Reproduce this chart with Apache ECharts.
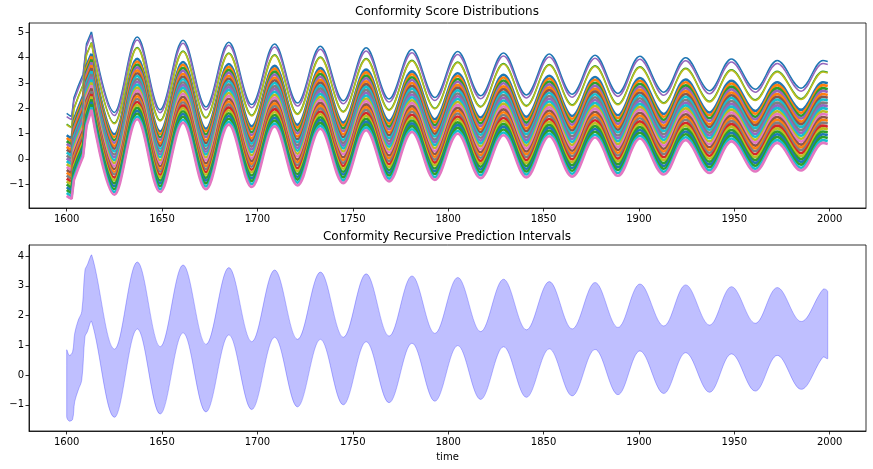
<!DOCTYPE html>
<html>
<head>
<meta charset="utf-8">
<script src="https://cdn.jsdelivr.net/npm/echarts@6/dist/echarts.min.js"></script>
<style>
html, body { margin: 0; padding: 0; background: #fff; }
#chart { width: 873px; height: 469px; }
</style>
</head>
<body>
<div id="chart"></div>
<script>
// key points (start, then peaks / troughs)
var scoreYears = [1600, 1601.5, 1602.6, 1603.8, 1606, 1608.6, 1610.4, 1613,
    1625, 1637, 1649, 1661, 1673, 1685, 1697, 1709, 1721, 1733, 1745, 1757, 1769, 1781,
    1793, 1805, 1817, 1829, 1841, 1853, 1865, 1877, 1889, 1900.5, 1913, 1924.5, 1937,
    1948.5, 1961, 1972.5, 1985, 1996.5, 1999];

var scoreLines = [
    [1.80,1.72,1.68,2.42,2.87,3.35,4.55,5.02,1.84,4.82,1.95,4.69,2.06,4.61,2.15,4.54,2.21,4.45,2.30,4.39,2.37,4.32,2.43,4.25,2.50,4.19,2.53,4.15,2.56,4.10,2.59,4.06,2.64,4.00,2.70,3.95,2.76,3.89,2.80,3.89,3.85],
    [1.68,1.60,1.56,2.30,2.75,3.23,4.43,4.90,1.72,4.70,1.83,4.57,1.94,4.49,2.03,4.42,2.09,4.33,2.18,4.27,2.25,4.20,2.31,4.13,2.38,4.07,2.41,4.03,2.44,3.98,2.47,3.94,2.52,3.88,2.58,3.83,2.64,3.77,2.68,3.77,3.73],
    [1.38,1.30,1.26,2.00,2.45,2.93,4.13,4.60,1.42,4.40,1.53,4.27,1.64,4.19,1.73,4.12,1.79,4.03,1.88,3.97,1.95,3.90,2.01,3.83,2.08,3.77,2.11,3.73,2.14,3.68,2.17,3.64,2.22,3.58,2.28,3.53,2.34,3.47,2.38,3.47,3.43],
    [1.35,1.27,1.23,1.97,2.42,2.90,4.10,4.57,1.39,4.37,1.50,4.24,1.61,4.16,1.70,4.09,1.76,4.00,1.85,3.94,1.92,3.87,1.98,3.80,2.05,3.74,2.08,3.70,2.11,3.65,2.14,3.61,2.19,3.55,2.25,3.50,2.31,3.44,2.35,3.44,3.40],
    [0.94,0.86,0.82,1.56,2.01,2.49,3.69,4.16,0.98,3.96,1.09,3.83,1.20,3.75,1.29,3.68,1.35,3.59,1.44,3.53,1.51,3.46,1.57,3.39,1.64,3.33,1.67,3.29,1.70,3.24,1.73,3.20,1.78,3.14,1.84,3.09,1.90,3.03,1.94,3.03,2.99],
    [0.83,0.75,0.71,1.45,1.90,2.38,3.58,4.05,0.87,3.85,0.98,3.72,1.09,3.64,1.18,3.57,1.24,3.48,1.33,3.42,1.40,3.35,1.46,3.28,1.53,3.22,1.56,3.18,1.59,3.13,1.62,3.09,1.67,3.03,1.73,2.98,1.79,2.92,1.83,2.92,2.88],
    [0.71,0.63,0.59,1.33,1.78,2.26,3.46,3.93,0.75,3.73,0.86,3.60,0.97,3.52,1.06,3.45,1.12,3.36,1.21,3.30,1.28,3.23,1.34,3.16,1.41,3.10,1.44,3.06,1.47,3.01,1.50,2.97,1.55,2.91,1.61,2.86,1.67,2.80,1.71,2.80,2.76],
    [0.60,0.52,0.48,1.22,1.67,2.15,3.35,3.82,0.64,3.62,0.75,3.49,0.86,3.41,0.95,3.34,1.01,3.25,1.10,3.19,1.17,3.12,1.23,3.05,1.30,2.99,1.33,2.95,1.36,2.90,1.39,2.86,1.44,2.80,1.50,2.75,1.56,2.69,1.60,2.69,2.65],
    [0.48,0.40,0.36,1.10,1.55,2.03,3.23,3.70,0.52,3.50,0.63,3.37,0.74,3.29,0.83,3.22,0.89,3.13,0.98,3.07,1.05,3.00,1.11,2.93,1.18,2.87,1.21,2.83,1.24,2.78,1.27,2.74,1.32,2.68,1.38,2.63,1.44,2.57,1.48,2.57,2.53],
    [0.37,0.29,0.25,0.99,1.44,1.92,3.12,3.59,0.41,3.39,0.52,3.26,0.63,3.18,0.72,3.11,0.78,3.02,0.87,2.96,0.94,2.89,1.00,2.82,1.07,2.76,1.10,2.72,1.13,2.67,1.16,2.63,1.21,2.57,1.27,2.52,1.33,2.46,1.37,2.46,2.42],
    [0.26,0.18,0.14,0.88,1.33,1.81,3.01,3.48,0.30,3.28,0.41,3.15,0.52,3.07,0.61,3.00,0.67,2.91,0.76,2.85,0.83,2.78,0.89,2.71,0.96,2.65,0.99,2.61,1.02,2.56,1.05,2.52,1.10,2.46,1.16,2.41,1.22,2.35,1.26,2.35,2.31],
    [0.14,0.06,0.02,0.76,1.21,1.69,2.89,3.36,0.18,3.16,0.29,3.03,0.40,2.95,0.49,2.88,0.55,2.79,0.64,2.73,0.71,2.66,0.77,2.59,0.84,2.53,0.87,2.49,0.90,2.44,0.93,2.40,0.98,2.34,1.04,2.29,1.10,2.23,1.14,2.23,2.19],
    [0.03,-0.05,-0.09,0.65,1.10,1.58,2.78,3.25,0.07,3.05,0.18,2.92,0.29,2.84,0.38,2.77,0.44,2.68,0.53,2.62,0.60,2.55,0.66,2.48,0.73,2.42,0.76,2.38,0.79,2.33,0.82,2.29,0.87,2.23,0.93,2.18,0.99,2.12,1.03,2.12,2.08],
    [-0.08,-0.16,-0.20,0.54,0.99,1.47,2.67,3.14,-0.04,2.94,0.07,2.81,0.18,2.73,0.27,2.66,0.33,2.57,0.42,2.51,0.49,2.44,0.55,2.37,0.62,2.31,0.65,2.27,0.68,2.22,0.71,2.18,0.76,2.12,0.82,2.07,0.88,2.01,0.92,2.01,1.97],
    [-0.20,-0.28,-0.32,0.42,0.87,1.35,2.55,3.02,-0.16,2.82,-0.05,2.69,0.06,2.61,0.15,2.54,0.21,2.45,0.30,2.39,0.37,2.32,0.43,2.25,0.50,2.19,0.53,2.15,0.56,2.10,0.59,2.06,0.64,2.00,0.70,1.95,0.76,1.89,0.80,1.89,1.85],
    [-0.31,-0.39,-0.43,0.31,0.76,1.24,2.44,2.91,-0.27,2.71,-0.16,2.58,-0.05,2.50,0.04,2.43,0.10,2.34,0.19,2.28,0.26,2.21,0.32,2.14,0.39,2.08,0.42,2.04,0.45,1.99,0.48,1.95,0.53,1.89,0.59,1.84,0.65,1.78,0.69,1.78,1.74],
    [-0.43,-0.51,-0.55,0.19,0.64,1.12,2.32,2.79,-0.39,2.59,-0.28,2.46,-0.17,2.38,-0.08,2.31,-0.02,2.22,0.07,2.16,0.14,2.09,0.20,2.02,0.27,1.96,0.30,1.92,0.33,1.87,0.36,1.83,0.41,1.77,0.47,1.72,0.53,1.66,0.57,1.66,1.62],
    [-0.54,-0.62,-0.66,0.08,0.53,1.01,2.21,2.68,-0.50,2.48,-0.39,2.35,-0.28,2.27,-0.19,2.20,-0.13,2.11,-0.04,2.05,0.03,1.98,0.09,1.91,0.16,1.85,0.19,1.81,0.22,1.76,0.25,1.72,0.30,1.66,0.36,1.61,0.42,1.55,0.46,1.55,1.51],
    [-0.65,-0.73,-0.77,-0.03,0.42,0.90,2.10,2.68,-0.61,2.37,-0.50,2.24,-0.39,2.16,-0.30,2.09,-0.24,2.00,-0.15,1.94,-0.08,1.87,-0.02,1.80,0.05,1.74,0.08,1.70,0.11,1.65,0.14,1.61,0.19,1.55,0.25,1.50,0.31,1.44,0.35,1.44,1.40],
    [-0.77,-0.85,-0.89,-0.15,0.30,0.78,1.98,2.57,-0.73,2.25,-0.62,2.12,-0.51,2.04,-0.42,1.97,-0.36,1.88,-0.27,1.82,-0.20,1.75,-0.14,1.68,-0.07,1.62,-0.04,1.58,-0.01,1.53,0.02,1.49,0.07,1.43,0.13,1.38,0.19,1.32,0.23,1.32,1.28],
    [-0.88,-0.96,-1.00,-0.26,0.19,0.67,1.87,2.47,-0.84,2.14,-0.73,2.01,-0.62,1.93,-0.53,1.86,-0.47,1.77,-0.38,1.71,-0.31,1.64,-0.25,1.57,-0.18,1.51,-0.15,1.47,-0.12,1.42,-0.09,1.38,-0.04,1.32,0.02,1.27,0.08,1.21,0.12,1.21,1.17],
    [-1.00,-1.08,-1.12,-0.38,0.07,0.55,1.75,2.36,-0.96,2.02,-0.85,1.89,-0.74,1.81,-0.65,1.74,-0.59,1.65,-0.50,1.59,-0.43,1.52,-0.37,1.45,-0.30,1.39,-0.27,1.35,-0.24,1.30,-0.21,1.26,-0.16,1.20,-0.10,1.15,-0.04,1.09,0.00,1.09,1.05],
    [-1.11,-1.19,-1.23,-0.49,-0.04,0.44,1.64,2.26,-1.07,1.91,-0.96,1.78,-0.85,1.70,-0.76,1.63,-0.70,1.54,-0.61,1.48,-0.54,1.41,-0.48,1.34,-0.41,1.28,-0.38,1.24,-0.35,1.19,-0.32,1.15,-0.27,1.09,-0.21,1.04,-0.15,0.98,-0.11,0.98,0.94],
    [-1.22,-1.30,-1.34,-0.60,-0.15,0.33,1.53,2.16,-1.18,1.80,-1.07,1.67,-0.96,1.59,-0.87,1.52,-0.81,1.43,-0.72,1.37,-0.65,1.30,-0.59,1.23,-0.52,1.17,-0.49,1.13,-0.46,1.08,-0.43,1.04,-0.38,0.98,-0.32,0.93,-0.26,0.87,-0.22,0.87,0.83],
    [-1.34,-1.42,-1.46,-0.72,-0.27,0.21,1.41,2.05,-1.30,1.68,-1.19,1.55,-1.08,1.47,-0.99,1.40,-0.93,1.31,-0.84,1.25,-0.77,1.18,-0.71,1.11,-0.64,1.05,-0.61,1.01,-0.58,0.96,-0.55,0.92,-0.50,0.86,-0.44,0.81,-0.38,0.75,-0.34,0.75,0.71],
    [-1.45,-1.53,-1.57,-0.83,-0.38,0.10,1.30,1.95,-1.41,1.57,-1.30,1.44,-1.19,1.36,-1.10,1.29,-1.04,1.20,-0.95,1.14,-0.88,1.07,-0.82,1.00,-0.75,0.94,-0.72,0.90,-0.69,0.85,-0.66,0.81,-0.61,0.75,-0.55,0.70,-0.49,0.64,-0.45,0.64,0.60]
];

var lineColors = ['#1f77b4', '#9467bd', '#2ca02c', '#bcbd22',
    '#1f77b4', '#ff7f0e', '#2ca02c', '#9467bd', '#ff7f0e', '#8c564b', '#17becf', '#7f7f7f',
    '#9467bd', '#17becf', '#bcbd22', '#e377c2', '#8c564b', '#ff7f0e', '#7f7f7f', '#d62728',
    '#bcbd22', '#2ca02c', '#1f77b4', '#2ca02c', '#17becf', '#e377c2'];

// prediction interval edges
var bandYears = [1600, 1601.4, 1603.1, 1604.2, 1606.1, 1607.9, 1609.6, 1610.8, 1613.1,
    1625, 1637, 1649, 1661, 1673, 1685, 1697, 1709, 1721, 1733, 1745, 1757, 1769, 1781,
    1793, 1805, 1817, 1829, 1841, 1853, 1865, 1877, 1889, 1900.5, 1913, 1924.5, 1937,
    1948.5, 1961, 1972.5, 1985, 1996.5, 1999];
var bandUpper = [0.84, 0.66, 0.78, 1.40, 1.85, 2.13, 3.53, 3.70, 4.04,
    0.87, 3.80, 0.95, 3.70, 1.03, 3.61, 1.12, 3.53, 1.20, 3.46, 1.27, 3.40, 1.31, 3.33,
    1.40, 3.28, 1.46, 3.22, 1.52, 3.14, 1.55, 3.11, 1.60, 3.06, 1.65, 3.03, 1.68, 2.97,
    1.74, 2.94, 1.80, 2.88, 2.80];
var bandLower = [-1.40, -1.55, -1.49, -0.90, -0.50, -0.17, 1.29, 1.45, 1.79,
    -1.42, 1.55, -1.31, 1.42, -1.24, 1.35, -1.16, 1.27, -1.07, 1.20, -1.00, 1.12, -0.93, 1.07,
    -0.88, 0.99, -0.82, 0.95, -0.75, 0.88, -0.70, 0.86, -0.66, 0.81, -0.62, 0.75, -0.58, 0.71,
    -0.54, 0.66, -0.48, 0.60, 0.56];

var FONT = 'DejaVu Sans';
var SCORE_SPLIT = 7;   // index of the first peak: jagged start drawn straight, rest smoothed

function plain(v) { return v < 0 ? '\u2212' + (-v) : String(v); }

function xAxisFor(idx, name) {
    return {
        type: 'value', gridIndex: idx, z: 5,
        min: 1580.25, max: 2019.05, splitNumber: 9,
        name: name || '', nameLocation: 'middle', nameGap: 21,
        nameTextStyle: { color: '#000', fontSize: 10, fontFamily: FONT },
        axisLine: { show: true, onZero: false, lineStyle: { color: '#000', width: 0.8 } },
        axisTick: { length: 3.5, lineStyle: { color: '#000', width: 0.8 } },
        axisLabel: { showMinLabel: false, showMaxLabel: false, color: '#000',
            fontSize: 10, fontFamily: FONT, margin: 6, formatter: plain },
        splitLine: { show: false }
    };
}

function yAxisFor(idx, min, max) {
    return {
        type: 'value', gridIndex: idx, min: min, max: max, z: 5,
        axisLine: { show: true, onZero: false, lineStyle: { color: '#000', width: 0.8 } },
        axisTick: { length: 3.5, lineStyle: { color: '#000', width: 0.8 } },
        axisLabel: { showMinLabel: false, showMaxLabel: false, color: '#000',
            fontSize: 10, fontFamily: FONT, margin: 5, formatter: plain },
        splitLine: { show: false }
    };
}

function pairs(xs, ys, from, to) {
    var out = [];
    for (var j = from; j <= to; j++) out.push([xs[j], ys[j]]);
    return out;
}

var series = [];
scoreLines.forEach(function (row, i) {
    var style = { color: lineColors[i], width: i < 4 ? 1.5 : 2.6 };
    series.push({
        type: 'line', xAxisIndex: 0, yAxisIndex: 0,
        data: pairs(scoreYears, row, 0, SCORE_SPLIT),
        symbol: 'none', smooth: false, lineStyle: style, silent: true
    });
    series.push({
        type: 'line', xAxisIndex: 0, yAxisIndex: 0,
        data: pairs(scoreYears, row, SCORE_SPLIT, scoreYears.length - 1),
        symbol: 'none', smooth: 0.36, lineStyle: style, silent: true
    });
});

// band between the lower and upper edges, one closed smoothed polygon
series.push({
    type: 'custom', xAxisIndex: 1, yAxisIndex: 1,
    data: [[bandYears[0], bandLower[0]]],
    encode: { x: 0, y: 1 },
    silent: true,
    renderItem: function (params, api) {
        var pts = [];
        var i;
        for (i = 0; i < bandYears.length; i++) pts.push(api.coord([bandYears[i], bandUpper[i]]));
        for (i = bandYears.length - 1; i >= 0; i--) pts.push(api.coord([bandYears[i], bandLower[i]]));
        return {
            type: 'polygon',
            shape: { points: pts, smooth: 0.36,
                smoothConstraint: [[Infinity, Infinity], [-Infinity, -Infinity]] },
            style: { fill: 'rgba(0,0,255,0.25)', stroke: 'rgba(0,0,255,0.25)', lineWidth: 1 }
        };
    }
});

var chart = echarts.init(document.getElementById('chart'), null, { renderer: 'canvas' });
chart.setOption({
    animation: false,
    backgroundColor: '#fff',
    graphic: [
        { type: 'text', x: 447, y: 12, style: { text: 'Conformity Score Distributions',
            fill: '#000', font: '12px "DejaVu Sans"', textAlign: 'center', textVerticalAlign: 'middle' } },
        { type: 'text', x: 447, y: 237, style: { text: 'Conformity Recursive Prediction Intervals',
            fill: '#000', font: '12px "DejaVu Sans"', textAlign: 'center', textVerticalAlign: 'middle' } }
    ],
    grid: [
        { left: 29, top: 23, width: 837, height: 185, show: true, borderColor: '#000', borderWidth: 0.8 },
        { left: 29, top: 245, width: 837, height: 186, show: true, borderColor: '#000', borderWidth: 0.8 }
    ],
    xAxis: [xAxisFor(0), xAxisFor(1, 'time')],
    yAxis: [yAxisFor(0, -1.93, 5.37), yAxisFor(1, -1.88, 4.37)],
    series: series
});
</script>
</body>
</html>
